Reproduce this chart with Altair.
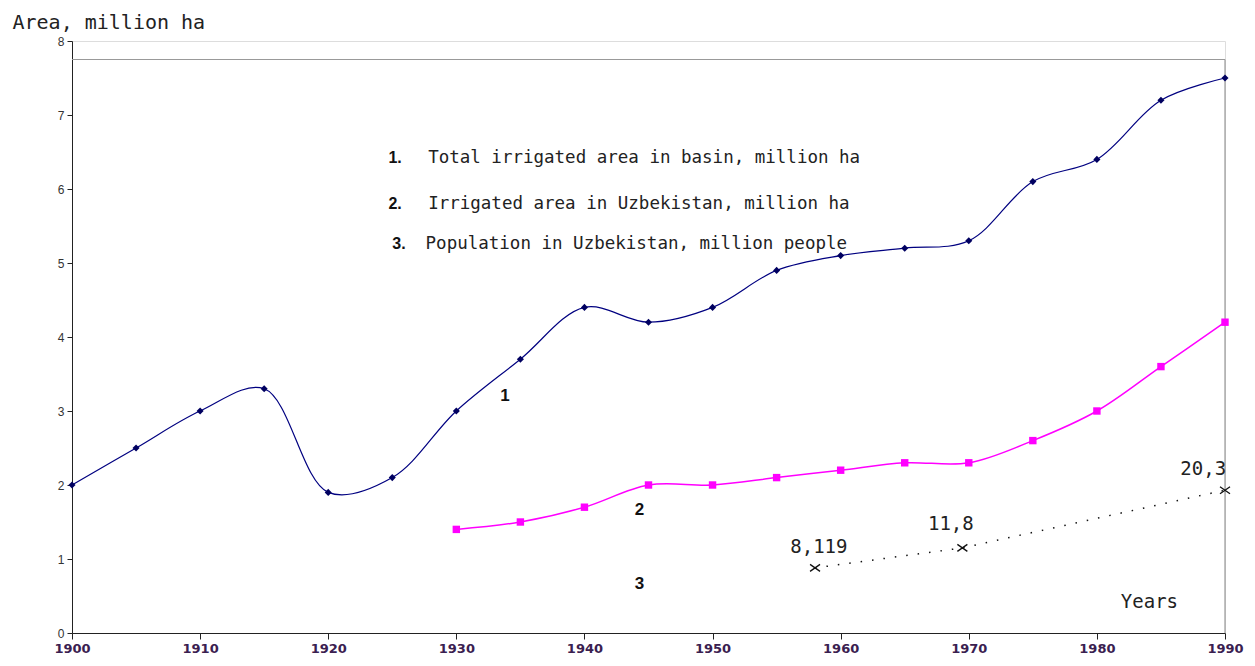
import altair as alt
import pandas as pd

years1 = [1900, 1905, 1910, 1915, 1920, 1925, 1930, 1935, 1940, 1945, 1950, 1955, 1960, 1965, 1970, 1975, 1980, 1985, 1990]
total_basin = [2.0, 2.5, 3.0, 3.3, 1.9, 2.1, 3.0, 3.7, 4.4, 4.2, 4.4, 4.9, 5.1, 5.2, 5.3, 6.1, 6.4, 7.2, 7.5]

years2 = [1930, 1935, 1940, 1945, 1950, 1955, 1960, 1965, 1970, 1975, 1980, 1985, 1990]
uzb_area = [1.4, 1.5, 1.7, 2.0, 2.0, 2.1, 2.2, 2.3, 2.3, 2.6, 3.0, 3.6, 4.2]

years3 = [1958, 1969.5, 1990]
pop_scaled = [0.88, 1.15, 1.93]
pop_labels = ["8,119", "11,8", "20,3"]
pop_label_x = [1958.3, 1968.6, 1988.3]
pop_label_y = [1.08, 1.39, 2.14]

legend_nums = ["1.", "2.", "3."]
legend_texts = ["Total irrigated area in basin, million ha",
                "Irrigated area in Uzbekistan, million ha",
                "Population in Uzbekistan, million people"]
legend_num_x = [1924.7, 1924.7, 1925.0]
legend_text_x = [1927.8, 1927.8, 1927.6]
legend_y = [6.42, 5.80, 5.26]

curve_nums = ["1", "2", "3"]
curve_num_x = [1933.8, 1944.3, 1944.3]
curve_num_y = [3.2, 1.66, 0.66]

FONT = "Liberation Sans"
WIDE = "DejaVu Sans"
SPACED = "DejaVu Sans Mono"

d1 = pd.DataFrame({"year": years1, "value": total_basin})
d2 = pd.DataFrame({"year": years2, "value": uzb_area})
d3 = pd.DataFrame({"year": years3, "value": pop_scaled})
d3l = pd.DataFrame({"x": pop_label_x, "y": pop_label_y, "label": pop_labels})
dleg = pd.DataFrame({"num": legend_nums, "text": legend_texts, "nx": legend_num_x,
                     "tx": legend_text_x, "y": legend_y})
dnum = pd.DataFrame({"num": curve_nums, "x": curve_num_x, "y": curve_num_y})
dframe = pd.DataFrame({"x": [1900], "x2": [1990], "y": [7.75], "y0": [0]})
dyears = pd.DataFrame({"x": [1984.1], "y": [0.42], "t": ["Years"]})

xscale = alt.Scale(domain=[1900, 1990], nice=False, zero=False)
yscale = alt.Scale(domain=[0, 8], nice=False)

xax = alt.X("year:Q", scale=xscale,
            axis=alt.Axis(values=list(range(1900, 1991, 10)), format="d", title=None,
                          grid=False, domainColor="#222", tickColor="#222", tickSize=6,
                          labelFont=WIDE, labelFontSize=13, labelFontWeight="bold",
                          labelColor="#3a2050", labelPadding=3, labelFlush=False))
yax = alt.Y("value:Q", scale=yscale,
            axis=alt.Axis(values=list(range(0, 9)), format="d", title="Area, million ha", grid=False,
                          domainColor="#222", tickColor="#222", tickSize=5,
                          labelFont=FONT, labelFontSize=12, labelColor="#333", labelPadding=3,
                          titleAngle=0, titleAlign="left", titleBaseline="alphabetic",
                          titleX=-60, titleY=-13, titleFont=SPACED, titleFontSize=20,
                          titleFontWeight="normal", titleColor="#222"))

frame_top = alt.Chart(dframe).mark_rule(color="#999", strokeWidth=1.2).encode(
    x=alt.X("x:Q", scale=xscale), x2="x2:Q", y=alt.Y("y:Q", scale=yscale))
frame_right = alt.Chart(dframe).mark_rule(color="#999", strokeWidth=1.2).encode(
    x=alt.X("x2:Q", scale=xscale), y=alt.Y("y0:Q", scale=yscale), y2="y:Q")

line1 = alt.Chart(d1).mark_line(color="#000080", strokeWidth=1.2, interpolate="catmull-rom").encode(x=xax, y=yax)
pts1 = alt.Chart(d1).mark_point(shape="diamond", filled=True, color="#000060", size=50, opacity=1).encode(x="year:Q", y="value:Q")

line2 = alt.Chart(d2).mark_line(color="#FF00FF", strokeWidth=1.5, interpolate="catmull-rom").encode(x="year:Q", y="value:Q")
pts2 = alt.Chart(d2).mark_point(shape="square", filled=True, color="#FF00FF", size=55, opacity=1).encode(x="year:Q", y="value:Q")

line3 = alt.Chart(d3).mark_line(color="#111", strokeWidth=1.5, strokeDash=[1.5, 10]).encode(x="year:Q", y="value:Q")
pts3 = alt.Chart(d3).mark_point(shape="M-1,-0.7L1,0.7M-1,0.7L1,-0.7", filled=False, color="#111",
                                size=100, strokeWidth=1.3, opacity=1).encode(x="year:Q", y="value:Q")
lab3 = alt.Chart(d3l).mark_text(font=SPACED, fontSize=19, color="#222", baseline="alphabetic").encode(
    x=alt.X("x:Q", scale=xscale), y=alt.Y("y:Q", scale=yscale), text="label:N")

leg_num = alt.Chart(dleg).mark_text(font=FONT, fontSize=16, fontWeight="bold", color="#111", align="left").encode(
    x=alt.X("nx:Q", scale=xscale), y=alt.Y("y:Q", scale=yscale), text="num:N")
leg_txt = alt.Chart(dleg).mark_text(font=SPACED, fontSize=17.5, color="#222", align="left").encode(
    x=alt.X("tx:Q", scale=xscale), y=alt.Y("y:Q", scale=yscale), text="text:N")
cnum = alt.Chart(dnum).mark_text(font=FONT, fontSize=17, fontWeight="bold", color="#111").encode(
    x=alt.X("x:Q", scale=xscale), y=alt.Y("y:Q", scale=yscale), text="num:N")
years_t = alt.Chart(dyears).mark_text(font=SPACED, fontSize=19, color="#222").encode(
    x=alt.X("x:Q", scale=xscale), y=alt.Y("y:Q", scale=yscale), text="t:N")

chart = alt.layer(line1, frame_top, frame_right, pts1, line2, pts2, line3, pts3, lab3,
                  leg_num, leg_txt, cnum, years_t).properties(
    width=1153, height=592,
    autosize=alt.AutoSizeParams(type="none"),
    padding={"left": 64, "top": 33, "right": 22, "bottom": 25},
).configure_view(stroke=None).configure(background="white")

chart.save("out.html", embed_options={"renderer": "svg", "actions": False})
